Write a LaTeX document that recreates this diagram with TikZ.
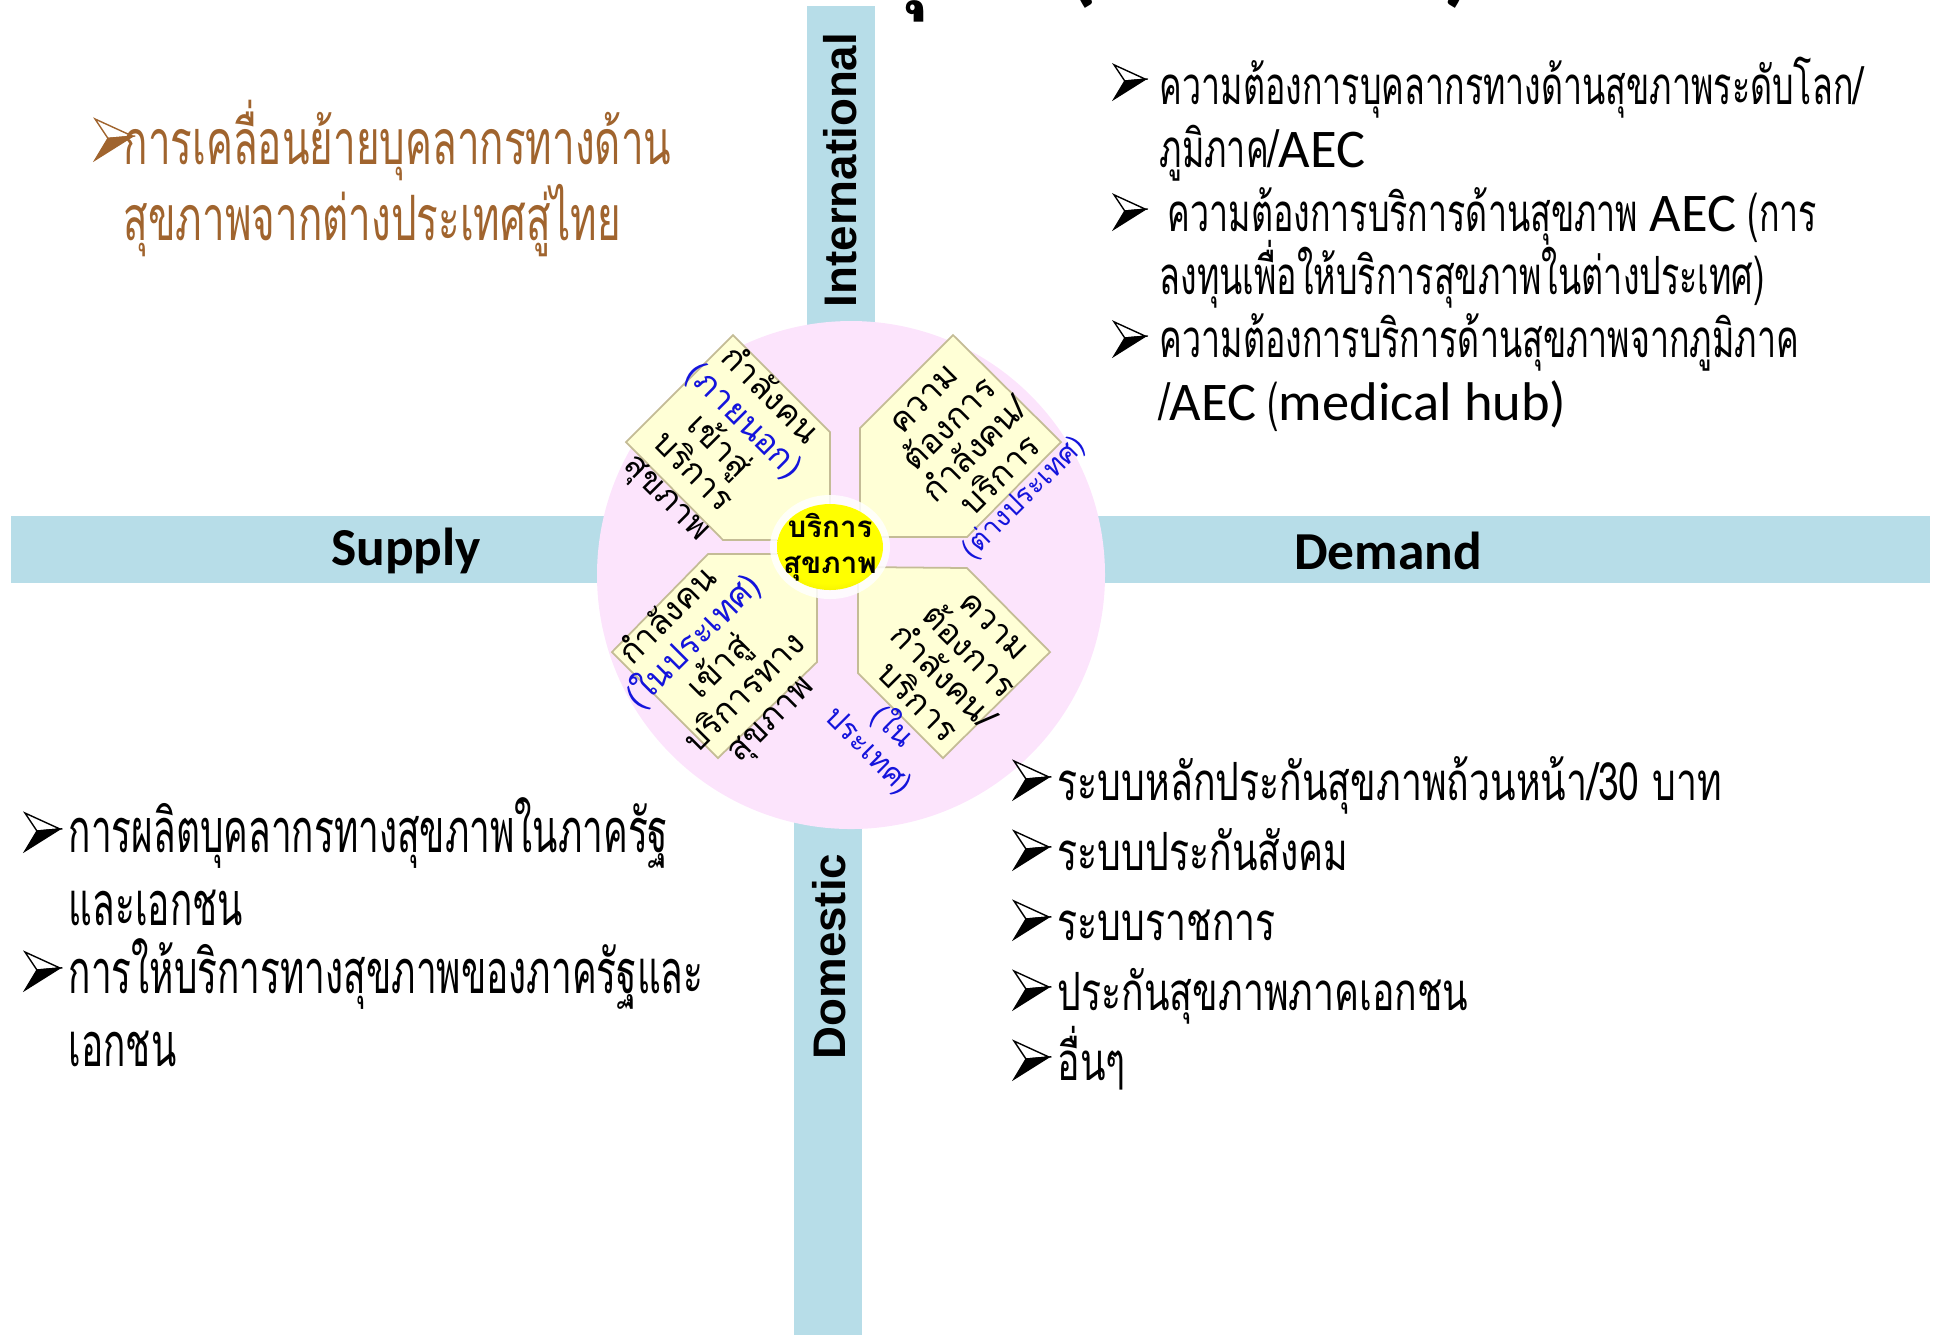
\documentclass[tikz,border=0pt]{standalone}
\usepackage{fontspec}
\setmainfont{Carlito}
\newfontfamily\thaifont[Script=Thai]{Loma}
\newfontfamily\thainarrowA[Script=Thai,FakeStretch=0.645]{Loma}
\newfontfamily\thainarrowB[Script=Thai,FakeStretch=0.605]{Loma}
\newfontfamily\thainarrowC[Script=Thai,FakeStretch=0.71]{Loma}
\newfontfamily\latinfont{Carlito}
\newfontfamily\axisfont{Liberation Sans}
\usepackage{xcolor}
\usepackage{tikz}

\definecolor{barblue}{RGB}{183,221,232}
\definecolor{hubpink}{RGB}{252,228,252}
\definecolor{notefill}{RGB}{255,255,214}
\definecolor{noteline}{RGB}{196,188,150}
\definecolor{notblue}{RGB}{20,20,220}
\definecolor{brownish}{RGB}{160,100,46}
\definecolor{hubedge}{RGB}{185,165,0}

% yellow button, bright in the middle and darker at the rim
\pgfdeclareradialshading{hubshade}{\pgfpoint{0bp}{10bp}}{%
  color(0bp)=(yellow); color(26bp)=(yellow); color(42bp)=(hubedge!55!yellow); color(50bp)=(hubedge)}

% fixed line pitch, whatever the Thai marks stack up to
\newcommand\fixskip{\lineskiplimit=-30pt\lineskip=0pt}

% Latin words set inside the Thai bullet lines
\newcommand\aec[1]{{\latinfont\fontsize{15.5}{17.9}\selectfont #1}}

\begin{document}
\begin{tikzpicture}[
    bar/.style={fill=barblue, draw=none},
    note/.style={fill=notefill, draw=noteline, line width=0.5pt, line join=miter},
    notetext/.style={align=center, inner sep=0pt, font=\thaifont\fontsize{9.6}{10.3}\selectfont\fixskip},
    bluenote/.style={align=center, inner sep=0pt, text=notblue, font=\thaifont\fontsize{8}{9}\selectfont\fixskip},
    axis/.style={inner sep=0pt, font=\axisfont\bfseries\fontsize{13}{15}\selectfont},
    side/.style={inner sep=0pt, font=\latinfont\bfseries\fontsize{15.2}{17}\selectfont},
    itemR/.style={anchor=base west, align=left, inner sep=0pt, font=\thainarrowA\fontsize{15}{17.9}\selectfont\fixskip},
    itemD/.style={anchor=base west, align=left, inner sep=0pt, font=\thainarrowC\fontsize{15}{17.9}\selectfont\fixskip},
    itemL/.style={anchor=base west, align=left, inner sep=0pt, font=\thainarrowB\fontsize{17.4}{20.5}\selectfont\fixskip},
    pics/bul/.style={code={
        \draw[draw=#1, fill=white, line width=0.4pt, line join=miter] (0,0.38) -- (0.35,0.22) -- (0.12,0.2) -- cycle;
        \draw[draw=#1, fill=#1, line width=0.4pt, line join=miter] (0.12,0.2) -- (0.35,0.22) -- (0,0) -- cycle;
    }}
]
\useasboundingbox (0,0) rectangle (19.34,-13.35);

% Axis bars
\fill[bar] (8.07,-0.06) rectangle (8.75,-4.0);
\fill[bar] (7.94,-7.0) rectangle (8.62,-13.35);
\fill[bar] (0.11,-5.16) rectangle (6.5,-5.83);
\fill[bar] (9.0,-5.16) rectangle (19.30,-5.83);

% Heading above the page edge
\node[anchor=base, inner sep=0pt, font=\thaifont\bfseries\fontsize{28}{30}\selectfont] (headA) at (9.02,0.04) {อุ};
\node[anchor=base, inner sep=0pt, font=\latinfont\bfseries\fontsize{28}{30}\selectfont] (headB) at (10.82,0.07) {(};
\node[anchor=base, inner sep=0pt, font=\latinfont\bfseries\fontsize{28}{30}\selectfont] (headC) at (14.59,0.07) {)};

\node[axis, rotate=90] (intl) at (8.405,-1.70) {International};
\node[axis, rotate=90] (dom) at (8.29,-9.565) {Domestic};
\node[side] (supply) at (4.06,-5.51) {Supply};
\node[side] (demand) at (13.88,-5.51) {Demand};

% Pink hub with four notes
\fill[hubpink] (8.51,-5.75) circle (2.54);

\draw[note] (7.33,-3.35) -- (6.26,-4.42) -- (7.23,-5.40) -- (8.30,-5.40) -- (8.30,-4.32) -- cycle;
\draw[note] (8.60,-5.37) -- (8.60,-4.28) -- (9.53,-3.35) -- (10.61,-4.42) -- (9.67,-5.37) -- cycle;
\draw[note] (7.08,-5.54) -- (8.17,-5.54) -- (8.17,-6.62) -- (7.18,-7.58) -- (6.12,-6.52) -- cycle;
\draw[note] (8.58,-5.67) -- (9.67,-5.68) -- (10.50,-6.52) -- (9.43,-7.58) -- (8.58,-6.73) -- cycle;

\node[notetext, rotate=-45] (supplyOut) at (7.18,-4.47)
  {กำลังคน\\\textcolor{notblue}{(ภายนอก)}\\เข้าสู่\\บริการ\\สุขภาพ};
\node[notetext, rotate=45] (demandOut) at (9.63,-4.38)
  {ความ\\ต้องการ\\กำลังคน/\\บริการ};
\node[bluenote, rotate=45] (demandOutTag) at (10.24,-4.98) {(ต่างประเทศ)};
\node[notetext, rotate=45] (supplyIn) at (7.20,-6.68)
  {กำลังคน\\\textcolor{notblue}{(ในประเทศ)}\\เข้าสู่\\บริการทาง\\สุขภาพ};
\node[notetext, rotate=-45] (demandIn) at (9.55,-6.65)
  {ความ\\ต้องการ\\กำลังคน/\\บริการ};
\node[bluenote, rotate=-45, font=\thaifont\fontsize{8.5}{9.5}\selectfont\fixskip] (demandInTag) at (8.81,-7.38) {(ใน\\ประเทศ)};

% Centre button
\fill[white, opacity=0.85] (8.30,-5.47) ellipse (0.60 and 0.52);
\shade[shading=hubshade] (8.30,-5.47) ellipse (0.53 and 0.43);
\node[align=center, inner sep=0pt, font=\thaifont\bfseries\fontsize{8.4}{10.2}\selectfont\fixskip] (hub) at (8.30,-5.47) {บริการ\\สุขภาพ};

% Inbound mobility (top left)
\pic[scale=1.08] at (0.95,-1.60) {bul=brownish};
\node[itemR, text=brownish, font=\thainarrowA\fontsize{17.8}{21.6}\selectfont\fixskip] (mobility) at (1.23,-2.40)
  {การเคลื่อนย้ายบุคลากรทางด้าน\\สุขภาพจากต่างประเทศสู่ไทย};

% International demand (top right)
\pic[scale=0.9] at (11.14,-0.99) {bul=black};
\node[itemR] (needA) at (11.59,-1.67)
  {ความต้องการบุคลากรทางด้านสุขภาพระดับโลก/\\ภูมิภาค/\aec{AEC}};
\pic[scale=0.9] at (11.14,-2.29) {bul=black};
\node[itemR] (needB) at (11.59,-2.94)
  {\hspace{0.08cm}ความต้องการบริการด้านสุขภาพ \aec{AEC} (การ\\ลงทุนเพื่อให้บริการสุขภาพในต่างประเทศ)};
\pic[scale=0.9] at (11.14,-3.56) {bul=black};
\node[itemR] (needC) at (11.59,-4.20)
  {ความต้องการบริการด้านสุขภาพจากภูมิภาค\\/\aec{AEC} (\aec{medical hub)}};

% Domestic supply (bottom left)
\pic at (0.25,-8.51) {bul=black};
\node[itemL] (prodA) at (0.68,-9.25) {การผลิตบุคลากรทางสุขภาพในภาครัฐ\\และเอกชน};
\pic at (0.25,-9.90) {bul=black};
\node[itemL] (prodB) at (0.68,-10.66) {การให้บริการทางสุขภาพของภาครัฐและ\\เอกชน};

% Domestic demand (bottom right)
\pic at (10.14,-7.99) {bul=black};
\node[itemD] (fundA) at (10.57,-8.00) {ระบบหลักประกันสุขภาพถ้วนหน้า/30 บาท};
\pic at (10.14,-8.69) {bul=black};
\node[itemD] (fundB) at (10.57,-8.70) {ระบบประกันสังคม};
\pic at (10.14,-9.39) {bul=black};
\node[itemD] (fundC) at (10.57,-9.40) {ระบบราชการ};
\pic at (10.14,-10.09) {bul=black};
\node[itemD] (fundD) at (10.57,-10.10) {ประกันสุขภาพภาคเอกชน};
\pic at (10.14,-10.79) {bul=black};
\node[itemD] (fundE) at (10.57,-10.80) {อื่นๆ};

\end{tikzpicture}
\end{document}
